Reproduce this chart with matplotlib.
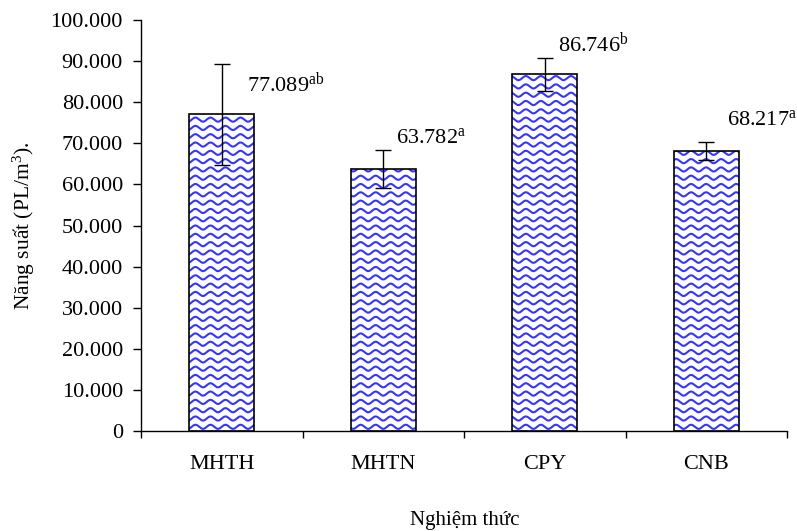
import numpy as np
import matplotlib
matplotlib.use("Agg")
from matplotlib import pyplot as plt

# du lieu doc tu hinh
nghiem_thuc = ["MHTH", "MHTN", "CPY", "CNB"]
nang_suat = [77.089, 63.782, 86.746, 68.217]
sai_so = [12.3, 4.6, 4.1, 2.2]
ky_hieu = ["ab", "a", "b", "a"]
y_ticks = [0, 10, 20, 30, 40, 50, 60, 70, 80, 90, 100]
y_ticklabels = ["0", "10.000", "20.000", "30.000", "40.000", "50.000",
                "60.000", "70.000", "80.000", "90.000", "100.000"]

plt.rcParams["font.family"] = ["Liberation Serif", "DejaVu Serif"]
plt.rcParams["mathtext.fontset"] = "custom"
plt.rcParams["mathtext.rm"] = "Liberation Serif"
plt.rcParams["mathtext.it"] = "Liberation Serif"

fig = plt.figure(figsize=(7.97, 5.31), dpi=100)
ax = fig.add_axes([141 / 797, 1 - 431 / 531, 646 / 797, 411 / 531])

x = np.arange(len(nghiem_thuc))
bars = ax.bar(x, nang_suat, width=0.4, color="white", edgecolor="black",
              linewidth=1.2, zorder=2)

# hoa van song mau xanh ben trong cot
xx = np.linspace(-0.5, 3.5, 3000)
for b in bars:
    for y0 in np.arange(-1, 101, 2.02):
        ln, = ax.plot(xx, y0 + 0.5 * np.sin(2 * np.pi * xx / 0.093),
                      color="#3535ff", lw=1.5, zorder=2.5)
        ln.set_clip_path(b)
# vien cot ve lai phia tren
for b in bars:
    b.set_zorder(3)
    b.set_facecolor("none")

ax.errorbar(x, nang_suat, yerr=sai_so, fmt="none", ecolor="black",
            elinewidth=1, capsize=5.5, capthick=1, zorder=4)

label_dx = [0.155, 0.08, 0.085, 0.13]
for i in range(len(x)):
    ax.text(x[i] + label_dx[i], nang_suat[i] + 7.4,
            "%.3f$^{\\mathrm{%s}}$" % (nang_suat[i], ky_hieu[i]),
            fontsize=16, va="center", ha="left")

ax.set_xlim(-0.5, 3.5)
ax.set_ylim(0, 100)
ax.set_yticks(y_ticks)
ax.set_yticklabels(y_ticklabels, fontsize=16)
ax.tick_params(axis="y", direction="out", length=6, width=1, pad=7)

ax.set_xticks(np.arange(-0.5, 3.6, 1.0))
ax.set_xticklabels([])
ax.tick_params(axis="x", which="major", direction="out", length=5, width=1)
ax.set_xticks(x, minor=True)
ax.set_xticklabels(nghiem_thuc, minor=True, fontsize=16)
ax.tick_params(axis="x", which="minor", length=0, pad=17)

ax.spines["top"].set_visible(False)
ax.spines["right"].set_visible(False)
ax.spines["left"].set_linewidth(1)
ax.spines["bottom"].set_linewidth(1)

fig.text(24 / 797, 1 - 226 / 531, "Năng suất (PL/m$^{3}$).", rotation=90,
         fontsize=15.5, ha="center", va="center")
fig.text(465 / 797, 1 - 520 / 531, "Nghiệm thức", fontsize=15,
         ha="center", va="center")

fig.savefig("out.png", dpi=100)
